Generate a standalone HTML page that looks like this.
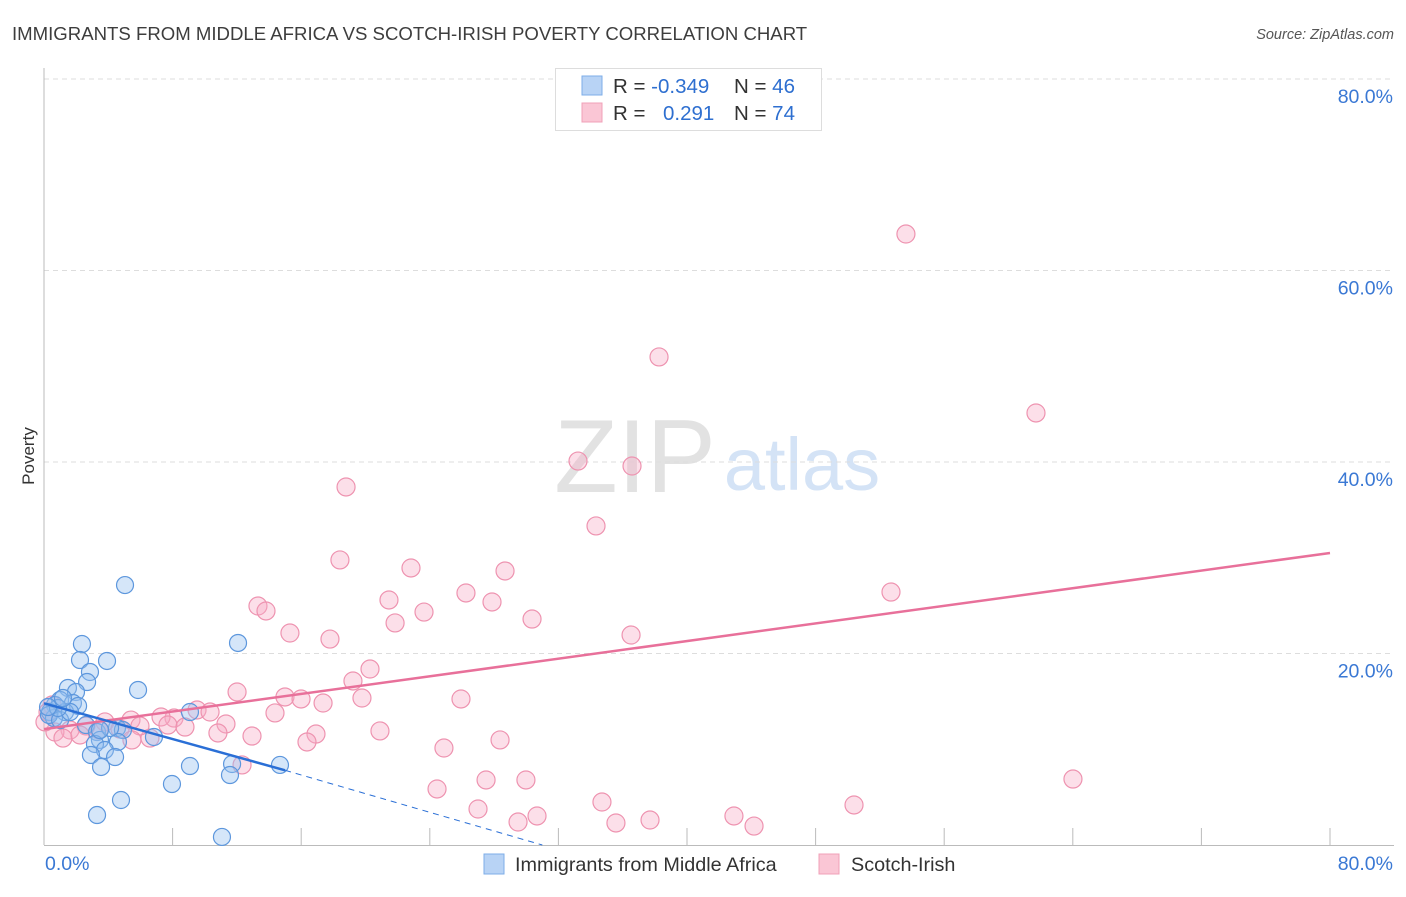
<!DOCTYPE html>
<html><head><meta charset="utf-8"><style>
body{margin:0;background:#fff;font-family:"Liberation Sans",sans-serif}
svg text{font-family:"Liberation Sans",sans-serif}
</style></head><body>
<svg id="chart" width="1406" height="892">
<text x="12" y="40" font-size="18.6" fill="#3d3d3d">IMMIGRANTS FROM MIDDLE AFRICA VS SCOTCH-IRISH POVERTY CORRELATION CHART</text>
<text x="1394" y="39" font-size="14.5" font-style="italic" fill="#555" text-anchor="end">Source: ZipAtlas.com</text>
<g><text x="635" y="492" font-size="104" font-family="Liberation Serif,serif" fill="#e2e2e2" text-anchor="middle">ZIP</text><text x="802" y="490" font-size="74" fill="#d4e3f6" text-anchor="middle">atlas</text></g>
<g id="grid"></g><g id="axes"></g><g id="marks"></g>
<text transform="translate(34,456) rotate(-90)" font-size="17" fill="#333" text-anchor="middle">Poverty</text>
<g>
<rect x="555.5" y="68.5" width="266" height="62" fill="#fff" stroke="#ddd"/>
<rect x="582" y="76" width="20" height="19" fill="#b8d3f5" stroke="#7eaee8"/>
<rect x="582" y="103" width="20" height="19" fill="#fac6d5" stroke="#f0a0b8"/>
<text x="613" y="93" font-size="20.5" fill="#333">R = <tspan fill="#2e6fd0">-0.349</tspan><tspan x="734">N = </tspan><tspan fill="#2e6fd0">46</tspan></text>
<text x="613" y="120" font-size="20.5" fill="#333">R = <tspan x="663" fill="#2e6fd0">0.291</tspan><tspan x="734">N = </tspan><tspan fill="#2e6fd0">74</tspan></text>
</g>
<g>
<rect x="484" y="854" width="20" height="20" fill="#b8d3f5" stroke="#7eaee8"/>
<text x="515" y="871" font-size="19.8" fill="#333">Immigrants from Middle Africa</text>
<rect x="819" y="854" width="20" height="20" fill="#fac6d5" stroke="#f0a0b8"/>
<text x="851" y="871" font-size="19.8" fill="#333">Scotch-Irish</text>
</g>
</svg>
<script>
const blueX=[5.04,2.36,12.07,2.24,3.92,2.86,2.68,5.85,1.49,1.99,1.0,1.8,2.12,0.68,0.37,1.31,0.62,9.08,2.61,4.54,4.91,3.3,3.48,4.6,3.17,6.84,3.79,2.92,4.42,3.55,9.08,11.7,14.68,11.57,7.96,4.79,3.3,11.07,0.31,1.0,1.62,4.11,0.87,0.25,1.18,3.48];
const blueY=[27.15,20.99,21.1,19.32,19.22,18.07,17.02,16.19,16.4,15.98,15.14,14.83,14.52,14.62,13.89,13.89,13.26,13.89,12.53,12.22,12.01,11.8,10.97,10.76,10.55,11.28,9.92,9.4,9.19,8.15,8.25,8.46,8.36,7.31,6.37,4.7,3.13,0.84,13.58,13.05,13.89,12.22,14.31,14.41,15.35,12.01];
const pinkX=[53.62,38.26,61.71,33.22,36.58,18.79,34.34,18.41,22.83,28.68,52.69,26.25,13.31,27.87,21.46,13.81,23.64,21.84,30.36,36.52,15.3,17.79,20.28,19.22,12.01,19.78,25.94,14.99,15.99,17.36,9.52,10.33,14.37,8.09,11.32,5.41,7.28,3.79,7.71,8.77,2.61,1.62,4.73,20.9,16.92,12.94,6.59,10.82,28.37,24.88,16.36,0.68,1.18,64.01,27.5,29.98,12.32,24.45,34.71,50.39,27.0,30.67,29.49,35.58,42.92,37.7,44.17,0.5,0.06,2.24,3.42,5.97,5.47,0.25];
const pinkY=[63.81,50.97,45.12,40.1,39.58,37.39,33.32,29.77,28.93,28.62,26.42,26.32,24.96,25.38,25.59,24.44,24.33,23.19,23.6,21.93,22.14,21.51,18.38,17.13,15.98,15.35,15.25,15.46,15.25,14.83,14.1,13.89,13.79,13.26,12.64,13.05,13.37,12.85,12.53,12.32,12.43,12.01,12.11,11.91,11.59,11.38,11.17,11.7,10.97,10.13,10.76,11.8,11.17,6.89,6.79,6.79,8.36,5.85,4.49,4.18,3.76,3.03,2.4,2.3,3.03,2.61,1.98,14.62,12.85,11.49,12.01,12.43,10.97,13.89];
const yTicks=[20,40,60,80];
const yTickLabels=["20.0%","40.0%","60.0%","80.0%"];
const xTicks=[0,8,16,24,32,40,48,56,64,72,80];
const blueTrend=[[0,14.8],[15,7.8]];
const blueTrendExt=[[15,7.8],[31,0]];
const pinkTrend=[[0,12.1],[80,30.5]];
const X=v=>44+v*16.075, Y=v=>845-v*9.575;
const NS="http://www.w3.org/2000/svg";
function mk(t,a,p){const e=document.createElementNS(NS,t);for(const k in a)e.setAttribute(k,a[k]);p.appendChild(e);return e;}
const grid=document.getElementById('grid'),axes=document.getElementById('axes'),marks=document.getElementById('marks');
yTicks.forEach((v,i)=>{
 const l=mk('line',{x1:44,x2:1394,y1:Y(v),y2:Y(v),stroke:'#ddd','stroke-dasharray':'5,4'},grid);
 
 
 const t=mk('text',{x:1393,y:Y(v)+24,'font-size':19.5,fill:'#3a78d4','text-anchor':'end'},grid);
 t.textContent=yTickLabels[i];
 
 
});
mk('line',{x1:44,x2:44,y1:68,y2:845,stroke:'#bbb'},axes);
mk('line',{x1:44,x2:1394,y1:845.5,y2:845.5,stroke:'#bbb'},axes);
xTicks.forEach(v=>{const l=mk('line',{x1:X(v),x2:X(v),y1:828,y2:845,stroke:'#bbb'},axes);
 
 });
let t0=mk('text',{x:45,y:870,'font-size':19.5,fill:'#3a78d4'},axes);t0.textContent='0.0%';


let t1=mk('text',{x:1393,y:870,'font-size':19.5,fill:'#3a78d4','text-anchor':'end'},axes);t1.textContent='80.0%';


pinkX.forEach((x,i)=>{const c=mk('circle',{cx:X(x),cy:Y(pinkY[i]),r:9,fill:'rgba(246,170,196,0.38)',stroke:'#ee93b0','stroke-width':1.2},marks);
 
 });
blueX.forEach((x,i)=>{const c=mk('circle',{cx:X(x),cy:Y(blueY[i]),r:8.5,fill:'rgba(150,192,240,0.4)',stroke:'#5d97dd','stroke-width':1.2},marks);
 
 });
const pl=mk('line',{x1:X(pinkTrend[0][0]),y1:Y(pinkTrend[0][1]),x2:X(pinkTrend[1][0]),y2:Y(pinkTrend[1][1]),stroke:'#e8709a','stroke-width':2.5},marks);


const bl=mk('line',{x1:X(blueTrend[0][0]),y1:Y(blueTrend[0][1]),x2:X(blueTrend[1][0]),y2:Y(blueTrend[1][1]),stroke:'#2a6fd6','stroke-width':2.5},marks);


const bd=mk('line',{x1:X(blueTrendExt[0][0]),y1:Y(blueTrendExt[0][1]),x2:X(blueTrendExt[1][0]),y2:Y(blueTrendExt[1][1]),stroke:'#2a6fd6','stroke-width':1,'stroke-dasharray':'6,5'},marks);


</script>
</body></html>
